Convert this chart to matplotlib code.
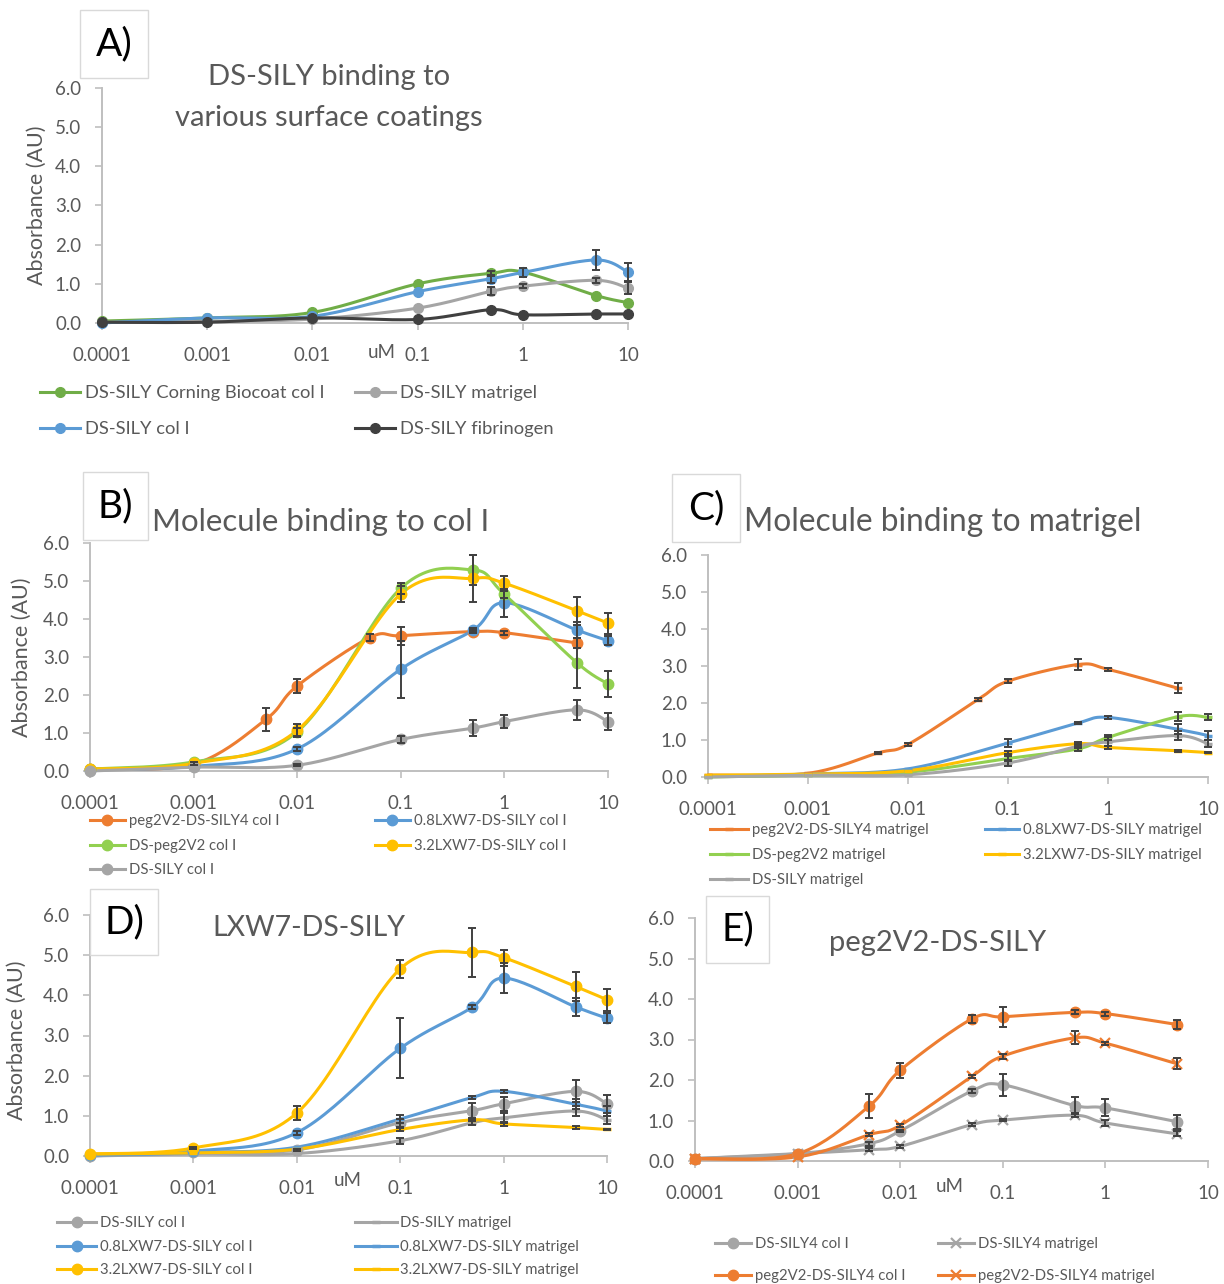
import numpy as np
import matplotlib
matplotlib.use("Agg")
import matplotlib.pyplot as plt
from matplotlib.patches import Rectangle
from matplotlib.lines import Line2D

plt.rcParams['font.family'] = ['Lato', 'DejaVu Sans']

W, H = 1224, 1284

# ---------------- data ----------------
# concentrations (uM)
conc = [0.0001, 0.001, 0.01, 0.1, 0.5, 1, 5, 10]
conc_peg = [0.0001, 0.001, 0.005, 0.01, 0.05, 0.1, 0.5, 1, 5]
tick_pos = [0.0001, 0.001, 0.01, 0.1, 1, 10]
tick_labels = ['0.0001', '0.001', '0.01', '0.1', '1', '10']
y_ticks = [0, 1, 2, 3, 4, 5, 6]

# A) DS-SILY on several coatings
a_corning = [0.05, 0.13, 0.27, 1.00, 1.27, 1.30, 0.70, 0.52]
a_corning_err = [0, 0, 0, 0, 0.07, 0, 0, 0]
a_matrigel = [0.02, 0.04, 0.10, 0.38, 0.81, 0.94, 1.09, 0.89]
a_matrigel_err = [0, 0, 0, 0, 0.10, 0.05, 0.06, 0.15]
a_col1 = [0.00, 0.13, 0.17, 0.80, 1.13, 1.29, 1.61, 1.30]
a_col1_err = [0, 0, 0, 0, 0.10, 0.12, 0.26, 0.22]
a_fibrinogen = [0.02, 0.02, 0.13, 0.09, 0.34, 0.21, 0.23, 0.23]

# col I coating
peg_col = [0.06, 0.18, 1.36, 2.24, 3.51, 3.56, 3.67, 3.64, 3.37]
peg_col_err = [0, 0, 0.30, 0.19, 0.10, 0.24, 0.05, 0.05, 0.12]
lxw08_col = [0.03, 0.12, 0.58, 2.68, 3.71, 4.43, 3.71, 3.43]
lxw08_col_err = [0, 0, 0.05, 0.75, 0.05, 0.37, 0.22, 0.12]
dspeg_col = [0.05, 0.24, 1.03, 4.81, 5.29, 4.65, 2.85, 2.29]
dspeg_col_err = [0, 0, 0.10, 0.15, 0.40, 0.10, 0.66, 0.34]
lxw32_col = [0.05, 0.20, 1.07, 4.66, 5.07, 4.94, 4.22, 3.89]
lxw32_col_err = [0, 0.03, 0.18, 0.22, 0.61, 0.20, 0.37, 0.28]
dssily_col = [0.00, 0.10, 0.15, 0.83, 1.13, 1.30, 1.61, 1.30]
dssily_col_err = [0, 0, 0.03, 0.10, 0.20, 0.17, 0.27, 0.22]

# matrigel coating
peg_mat = [0.05, 0.10, 0.65, 0.88, 2.09, 2.59, 3.04, 2.91, 2.40]
peg_mat_err = [0, 0, 0.03, 0.04, 0.04, 0.06, 0.16, 0.04, 0.14]
lxw08_mat = [0.02, 0.08, 0.22, 0.92, 1.46, 1.61, 1.29, 1.12]
lxw08_mat_err = [0, 0, 0, 0.10, 0.03, 0.04, 0.13, 0.12]
dspeg_mat = [0.00, 0.05, 0.13, 0.50, 0.76, 1.07, 1.63, 1.61]
dspeg_mat_err = [0, 0, 0, 0.08, 0.05, 0.07, 0.12, 0.08]
lxw32_mat = [0.05, 0.08, 0.17, 0.66, 0.90, 0.80, 0.71, 0.66]
lxw32_mat_err = [0, 0, 0, 0.03, 0.04, 0.05, 0.03, 0.02]
dssily_mat = [0.00, 0.05, 0.06, 0.38, 0.83, 0.95, 1.12, 0.90]
dssily_mat_err = [0, 0, 0, 0.08, 0.05, 0.12, 0.12, 0.10]

# DS-SILY4
sily4_col = [0.06, 0.18, 0.43, 0.74, 1.73, 1.88, 1.37, 1.31, 0.97]
sily4_col_err = [0, 0, 0.05, 0.03, 0.04, 0.27, 0.20, 0.21, 0.17]
sily4_mat = [0.06, 0.18, 0.28, 0.36, 0.90, 1.01, 1.13, 0.94, 0.67]
sily4_mat_err = [0, 0, 0.03, 0.03, 0.04, 0.03, 0.05, 0.07, 0.06]

# ---------------- style ----------------
ORANGE = '#ED7D31'
BLUE = '#5B9BD5'
GREEN_A = '#70AD47'
GREEN = '#92D050'
YELLOW = '#FFC000'
GRAY = '#A5A5A5'
DARK = '#404040'
TXT = '#595959'
AXC = '#BFBFBF'
ERRC = '#404040'

fig = plt.figure(figsize=(W / 100, H / 100), dpi=100)
fig.patch.set_facecolor('white')


def px_rect(l, r, t, b):
    return [l / W, 1 - b / H, (r - l) / W, (b - t) / H]


def smooth(x, y, n=24):
    """Bezier smoothing through the points in (log10 x, y) space."""
    p = np.column_stack([np.log10(x), np.asarray(y, float)])
    q = np.vstack([p[0], p, p[-1]])
    t = np.linspace(0, 1, n)[:, None]
    segs = []
    for i in range(1, len(q) - 2):
        p0, p1, p2, p3 = q[i - 1], q[i], q[i + 1], q[i + 2]
        c1 = p1 + (p2 - p0) / 6.0
        c2 = p2 - (p3 - p1) / 6.0
        s = ((1 - t) ** 3) * p1 + 3 * ((1 - t) ** 2) * t * c1 + 3 * (1 - t) * t ** 2 * c2 + t ** 3 * p2
        segs.append(s if i == 1 else s[1:])
    s = np.vstack(segs)
    return 10 ** s[:, 0], s[:, 1]


def make_axes(l, r, t, b):
    ax = fig.add_axes(px_rect(l, r, t, b))
    ax.set_xscale('log')
    ax.set_xlim(1e-4, 10)
    ax.set_ylim(0, 6)
    ax.set_xticks(tick_pos)
    ax.set_xticklabels(tick_labels)
    ax.xaxis.set_minor_locator(matplotlib.ticker.NullLocator())
    ax.set_yticks(y_ticks)
    ax.yaxis.set_major_formatter(matplotlib.ticker.FormatStrFormatter('%.1f'))
    for s in ('top', 'right'):
        ax.spines[s].set_visible(False)
    for s in ('left', 'bottom'):
        ax.spines[s].set_color(AXC)
        ax.spines[s].set_linewidth(1.4)
    ax.tick_params(axis='both', colors=AXC, labelcolor=TXT, labelsize=13.5,
                   length=5, width=1.2)
    ax.tick_params(axis='x', pad=12)
    ax.tick_params(axis='y', pad=10)
    ax.patch.set_alpha(0)
    return ax


def series(ax, x, y, err, color, marker, ms=7.5, mew=1.0, lw=2.2):
    sx, sy = smooth(x, y)
    ax.plot(sx, sy, color=color, lw=lw, zorder=3, clip_on=False,
            solid_capstyle='round')
    ax.plot(x, y, ls='none', marker=marker, ms=ms, color=color, mfc=color,
            mec=color, mew=mew, zorder=4, clip_on=False)
    if err is not None:
        e = np.asarray(err, float)
        keep = e > 0
        if keep.any():
            ax.errorbar(np.asarray(x)[keep], np.asarray(y)[keep], yerr=e[keep],
                        fmt='none', ecolor=ERRC, elinewidth=1.4, capsize=3,
                        capthick=1.4, zorder=5, clip_on=False)
    return Line2D([], [], color=color, lw=lw, marker=marker, ms=ms,
                  mfc=color, mec=color, mew=mew)


def legend_entry(handle, label, x, y, fs, hl):
    lg = fig.legend([handle], [label], loc='center left',
                    bbox_to_anchor=(x / W, 1 - y / H), frameon=False,
                    fontsize=fs, handlelength=hl, handletextpad=0.25,
                    borderpad=0, borderaxespad=0, labelcolor=TXT)
    return lg


def label_box(l, r, t, b, text):
    fig.add_artist(Rectangle((l / W, 1 - b / H), (r - l) / W, (b - t) / H,
                             transform=fig.transFigure, facecolor='white',
                             edgecolor='#D9D9D9', lw=1.0, zorder=10))
    fig.text((l + r) / 2 / W, 1 - (t + b) / 2 / H, text, ha='center',
             va='center', fontsize=28, color='black', zorder=11)


def ftext(x, y, s, **kw):
    return fig.text(x / W, 1 - y / H, s, **kw)


DASH = '_'
YLAB = 15.5

# ---------------- A ----------------
axA = make_axes(102, 628, 88, 323)
hA1 = series(axA, conc, a_corning, a_corning_err, GREEN_A, 'o', ms=7)
hA2 = series(axA, conc, a_matrigel, a_matrigel_err, GRAY, 'o', ms=7)
hA3 = series(axA, conc, a_col1, a_col1_err, BLUE, 'o', ms=7)
hA4 = series(axA, conc, a_fibrinogen, None, DARK, 'o', ms=7)
ftext(329, 77, 'DS-SILY binding to', ha='center', va='center', fontsize=21, color=TXT)
ftext(329, 118, 'various surface coatings', ha='center', va='center', fontsize=21, color=TXT)
ftext(37, 205, 'Absorbance (AU)', rotation=90, ha='center', va='center', fontsize=YLAB, color=TXT)
ftext(382, 352, 'uM', ha='center', va='center', fontsize=13.5, color=TXT)
label_box(80, 148, 10, 78, 'A)')
legend_entry(hA1, 'DS-SILY Corning Biocoat col I', 40, 393, 13.2, 2.2)
legend_entry(hA2, 'DS-SILY matrigel', 355, 393, 13.2, 2.2)
legend_entry(hA3, 'DS-SILY col I', 40, 429, 13.2, 2.2)
legend_entry(hA4, 'DS-SILY fibrinogen', 355, 429, 13.2, 2.2)

# ---------------- B ----------------
axB = make_axes(90, 608, 543, 771)
hB1 = series(axB, conc_peg, peg_col, peg_col_err, ORANGE, 'o')
hB2 = series(axB, conc, lxw08_col, lxw08_col_err, BLUE, 'o')
hB3 = series(axB, conc, dspeg_col, dspeg_col_err, GREEN, 'o')
hB4 = series(axB, conc, lxw32_col, lxw32_col_err, YELLOW, 'o')
hB5 = series(axB, conc, dssily_col, dssily_col_err, GRAY, 'o')
ftext(152, 522, 'Molecule binding to col I', ha='left', va='center', fontsize=22.5, color=TXT)
ftext(22, 657, 'Absorbance (AU)', rotation=90, ha='center', va='center', fontsize=YLAB, color=TXT)
label_box(83, 148, 472, 540, 'B)')
legend_entry(hB1, 'peg2V2-DS-SILY4 col I', 90, 821, 10.7, 2.35)
legend_entry(hB2, '0.8LXW7-DS-SILY col I', 375, 821, 10.7, 2.35)
legend_entry(hB3, 'DS-peg2V2 col I', 90, 846, 10.7, 2.35)
legend_entry(hB4, '3.2LXW7-DS-SILY col I', 375, 846, 10.7, 2.35)
legend_entry(hB5, 'DS-SILY col I', 90, 870, 10.7, 2.35)

# ---------------- C ----------------
axC = make_axes(708, 1208, 555, 777)
hC1 = series(axC, conc_peg, peg_mat, peg_mat_err, ORANGE, DASH, ms=6, mew=2.5)
hC2 = series(axC, conc, lxw08_mat, lxw08_mat_err, BLUE, DASH, ms=6, mew=2.5)
hC3 = series(axC, conc, dspeg_mat, dspeg_mat_err, GREEN, DASH, ms=6, mew=2.5)
hC4 = series(axC, conc, lxw32_mat, lxw32_mat_err, YELLOW, DASH, ms=6, mew=2.5)
hC5 = series(axC, conc, dssily_mat, dssily_mat_err, GRAY, DASH, ms=6, mew=2.5)
ftext(744, 522, 'Molecule binding to matrigel', ha='left', va='center', fontsize=22.8, color=TXT)
label_box(672, 740, 474, 542, 'C)')
legend_entry(hC1, 'peg2V2-DS-SILY4 matrigel', 710, 830, 10.7, 2.55)
legend_entry(hC2, '0.8LXW7-DS-SILY matrigel', 985, 830, 10.7, 2.3)
legend_entry(hC3, 'DS-peg2V2 matrigel', 710, 855, 10.7, 2.55)
legend_entry(hC4, '3.2LXW7-DS-SILY matrigel', 985, 855, 10.7, 2.3)
legend_entry(hC5, 'DS-SILY matrigel', 710, 880, 10.7, 2.55)

# ---------------- D ----------------
axD = make_axes(90, 607, 915, 1156)
hD1 = series(axD, conc, dssily_col, dssily_col_err, GRAY, 'o')
hD2 = series(axD, conc, dssily_mat, dssily_mat_err, GRAY, DASH, ms=6, mew=2.5)
hD3 = series(axD, conc, lxw08_col, lxw08_col_err, BLUE, 'o')
hD4 = series(axD, conc, lxw08_mat, lxw08_mat_err, BLUE, DASH, ms=6, mew=2.5)
hD5 = series(axD, conc, lxw32_col, lxw32_col_err, YELLOW, 'o')
hD6 = series(axD, conc, lxw32_mat, lxw32_mat_err, YELLOW, DASH, ms=6, mew=2.5)
ftext(309, 928, 'LXW7-DS-SILY', ha='center', va='center', fontsize=20.5, color=TXT)
ftext(17, 1040, 'Absorbance (AU)', rotation=90, ha='center', va='center', fontsize=YLAB, color=TXT)
ftext(348, 1180, 'uM', ha='center', va='center', fontsize=13.5, color=TXT)
label_box(90, 158, 889, 955, 'D)')
legend_entry(hD1, 'DS-SILY col I', 57, 1223, 10.7, 2.65)
legend_entry(hD2, 'DS-SILY matrigel', 355, 1223, 10.7, 2.8)
legend_entry(hD3, '0.8LXW7-DS-SILY col I', 57, 1247, 10.7, 2.65)
legend_entry(hD4, '0.8LXW7-DS-SILY matrigel', 355, 1247, 10.7, 2.8)
legend_entry(hD5, '3.2LXW7-DS-SILY col I', 57, 1270, 10.7, 2.65)
legend_entry(hD6, '3.2LXW7-DS-SILY matrigel', 355, 1270, 10.7, 2.8)

# ---------------- E ----------------
axE = make_axes(695, 1208, 918, 1161)
hE1 = series(axE, conc_peg, sily4_col, sily4_col_err, GRAY, 'o')
hE2 = series(axE, conc_peg, sily4_mat, sily4_mat_err, GRAY, 'x', ms=7, mew=1.6)
hE3 = series(axE, conc_peg, peg_col, peg_col_err, ORANGE, 'o')
hE4 = series(axE, conc_peg, peg_mat, peg_mat_err, ORANGE, 'x', ms=7, mew=1.6)
ftext(938, 943, 'peg2V2-DS-SILY', ha='center', va='center', fontsize=21, color=TXT)
ftext(950, 1187, 'uM', ha='center', va='center', fontsize=13.5, color=TXT)
label_box(706, 769, 896, 963, 'E)')
legend_entry(hE1, 'DS-SILY4 col I', 715, 1244, 10.7, 2.45)
legend_entry(hE2, 'DS-SILY4 matrigel', 938, 1244, 10.7, 2.45)
legend_entry(hE3, 'peg2V2-DS-SILY4 col I', 715, 1276, 10.7, 2.45)
legend_entry(hE4, 'peg2V2-DS-SILY4 matrigel', 938, 1276, 10.7, 2.45)

fig.savefig('out.png', dpi=100, facecolor='white')
